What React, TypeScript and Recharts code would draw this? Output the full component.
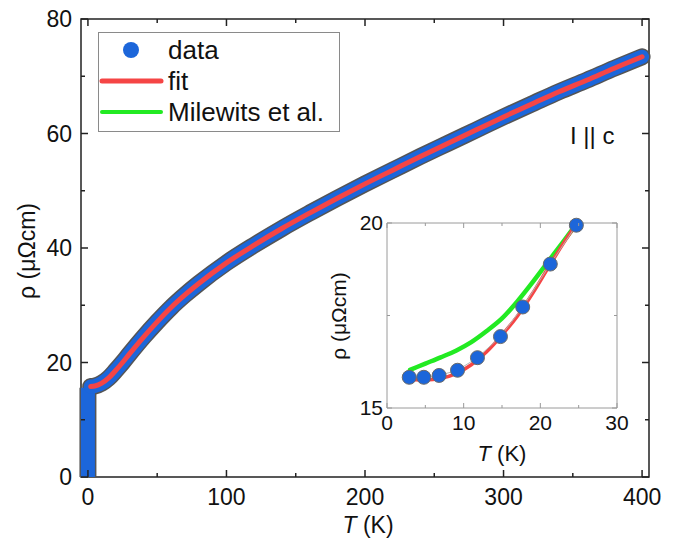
import React from "react";
import { ComposedChart, Line, Scatter, XAxis, YAxis, ReferenceArea, Legend } from "recharts";

// main panel: temperature (K) and resistivity (µΩcm)
const mainT = [2, 5, 10, 15, 20, 25, 30, 40, 50, 60, 70, 80, 100, 120, 140, 160, 180, 200, 220, 240, 260, 280, 300, 320, 340, 360, 380, 400];
const dataRho = [15.8, 15.9, 16.4, 17.3, 18.6, 20.0, 21.5, 24.4, 27.1, 29.6, 31.8, 33.8, 37.4, 40.5, 43.4, 46.1, 48.7, 51.2, 53.6, 56.0, 58.3, 60.6, 62.9, 65.1, 67.3, 69.3, 71.4, 73.4];
const fitRho = [15.8, 15.9, 16.4, 17.3, 18.6, 20.0, 21.5, 24.4, 27.1, 29.6, 31.8, 33.8, 37.4, 40.5, 43.4, 46.1, 48.7, 51.2, 53.6, 56.0, 58.3, 60.6, 62.9, 65.1, 67.3, 69.3, 71.4, 73.4];
// drop to zero below the transition
const dropT = [0, 0];
const dropRho = [0, 15.6];

// inset: low temperature zoom
const insetT = [2.9, 4.8, 6.8, 9.2, 11.8, 14.8, 17.7, 21.3, 24.7];
const insetRho = [15.83, 15.83, 15.88, 16.02, 16.36, 16.93, 17.73, 18.89, 19.94];
const curveT = [3, 5, 7, 9, 11, 13, 15, 17, 19, 21, 23, 24.8];
const insetFit = [15.77, 15.76, 15.8, 15.93, 16.17, 16.52, 16.97, 17.48, 18.1, 18.78, 19.45, 20.0];
const insetMilewits = [16.03, 16.2, 16.37, 16.55, 16.78, 17.08, 17.42, 17.88, 18.4, 18.95, 19.5, 20.0];

const mainXTicks = [0, 50, 100, 150, 200, 250, 300, 350, 400];
const mainYTicks = [0, 10, 20, 30, 40, 50, 60, 70, 80];
const insetXTicks = [0, 5, 10, 15, 20, 25, 30];
const insetYTicks = [15, 17.5, 20];

const FONT = "'Liberation Sans', Arial, sans-serif";
const BLUE = "#1c66da";
const EDGE = "#555";
const RED = "#f54545";
const GREEN = "#22ea22";
const INK = "#111";

const MAIN_TOP = 19;
const MAIN_RIGHT = 649;

const pair = (xs: number[], ys: number[]) => xs.map((T, i) => ({ T, rho: ys[i] }));

const MainXTick = ({ x, y, payload }: any) => {
  const v = payload.value;
  const major = v % 100 === 0;
  const len = major ? 7 : 4;
  return (
    <g>
      <line x1={x} y1={y} x2={x} y2={y - len} stroke="#222" strokeWidth={1.5} />
      <line x1={x} y1={MAIN_TOP} x2={x} y2={MAIN_TOP + len} stroke="#222" strokeWidth={1.5} />
      {major && (
        <text x={x} y={y + 28} textAnchor="middle" fontSize={23} fill={INK} fontFamily={FONT}>
          {v}
        </text>
      )}
    </g>
  );
};

const MainYTick = ({ x, y, payload }: any) => {
  const v = payload.value;
  const major = v % 20 === 0;
  const len = major ? 7 : 4;
  return (
    <g>
      <line x1={x} y1={y} x2={x + len} y2={y} stroke="#222" strokeWidth={1.5} />
      <line x1={MAIN_RIGHT} y1={y} x2={MAIN_RIGHT - len} y2={y} stroke="#222" strokeWidth={1.5} />
      {major && (
        <text x={x - 9} y={y + 8} textAnchor="end" fontSize={23} fill={INK} fontFamily={FONT}>
          {v}
        </text>
      )}
    </g>
  );
};

const INSET_TOP = 23;
const INSET_RIGHT = 297;

const InsetXTick = ({ x, y, payload }: any) => {
  const v = payload.value;
  const major = v % 10 === 0;
  const len = major ? 5 : 3;
  return (
    <g>
      <line x1={x} y1={y} x2={x} y2={y - len} stroke="#999" strokeWidth={1} />
      <line x1={x} y1={INSET_TOP} x2={x} y2={INSET_TOP + len} stroke="#999" strokeWidth={1} />
      {major && (
        <text x={x} y={y + 22} textAnchor="middle" fontSize={21} fill={INK} fontFamily={FONT}>
          {v}
        </text>
      )}
    </g>
  );
};

const InsetYTick = ({ x, y, payload }: any) => {
  const v = payload.value;
  const major = v % 5 === 0;
  const len = major ? 5 : 3;
  return (
    <g>
      <line x1={x} y1={y} x2={x + len} y2={y} stroke="#999" strokeWidth={1} />
      <line x1={INSET_RIGHT} y1={y} x2={INSET_RIGHT - len} y2={y} stroke="#999" strokeWidth={1} />
      {major && (
        <text x={x - 4} y={y + 7} textAnchor="end" fontSize={21} fill={INK} fontFamily={FONT}>
          {v}
        </text>
      )}
    </g>
  );
};

const LegendBox = () => (
  <svg width={242} height={100} style={{ display: "block" }}>
    <rect x={0.5} y={0.5} width={241} height={99} fill="#fff" stroke="#8a8a8a" />
    <circle cx={33} cy={18} r={8} fill={BLUE} />
    <text x={70} y={27} fontSize={26} fill={INK} fontFamily={FONT}>data</text>
    <line x1={4} y1={49} x2={63} y2={49} stroke={RED} strokeWidth={5} strokeLinecap="round" />
    <text x={70} y={58} fontSize={26} fill={INK} fontFamily={FONT}>fit</text>
    <line x1={4} y1={80} x2={63} y2={80} stroke={GREEN} strokeWidth={4} strokeLinecap="round" />
    <text x={70} y={89} fontSize={26} fill={INK} fontFamily={FONT}>Milewits et al.</text>
  </svg>
);

const Dot = ({ cx, cy }: any) => <circle cx={cx} cy={cy} r={7} fill={BLUE} stroke="#6a6a6a" strokeWidth={1} />;

export default function App() {
  const mainData = pair(mainT, dataRho);
  const fitData = pair(mainT, fitRho);
  const dropData = pair(dropT, dropRho);
  const insetData = pair(insetT, insetRho);
  const fitInset = pair(curveT, insetFit);
  const milInset = pair(curveT, insetMilewits);

  return (
    <div style={{ position: "absolute", left: 0, top: 0, width: 689, height: 550, background: "#fff" }}>
      <ComposedChart width={689} height={550} margin={{ top: 19, right: 40, bottom: 13, left: 0 }}>
        <XAxis
          dataKey="T"
          type="number"
          domain={[-5, 405]}
          ticks={mainXTicks}
          interval={0}
          height={60}
          axisLine={false}
          tickLine={false}
          tickSize={0}
          tickMargin={0}
          tick={<MainXTick />}
        />
        <YAxis
          dataKey="rho"
          type="number"
          domain={[0, 80]}
          ticks={mainYTicks}
          interval={0}
          width={81}
          axisLine={false}
          tickLine={false}
          tickSize={0}
          tickMargin={0}
          tick={<MainYTick />}
        />
        <ReferenceArea x1={-5} x2={405} y1={0} y2={80} fill="none" stroke="#222" strokeWidth={1.5} />
        <Line data={dropData} dataKey="rho" stroke={EDGE} strokeWidth={17} strokeLinecap="butt" dot={false} isAnimationActive={false} legendType="none" />
        <Line data={mainData} dataKey="rho" type="monotone" stroke={EDGE} strokeWidth={17} strokeLinecap="round" strokeLinejoin="round" dot={false} isAnimationActive={false} legendType="none" />
        <Line data={dropData} dataKey="rho" stroke={BLUE} strokeWidth={14} strokeLinecap="butt" dot={false} isAnimationActive={false} legendType="none" />
        <Line data={mainData} name="data" dataKey="rho" type="monotone" stroke={BLUE} strokeWidth={14} strokeLinecap="round" strokeLinejoin="round" dot={false} isAnimationActive={false} />
        <Line data={fitData} name="fit" dataKey="rho" type="monotone" stroke={RED} strokeWidth={5} strokeLinecap="round" dot={false} isAnimationActive={false} />
        <Legend
          layout="horizontal"
          verticalAlign="middle"
          align="center"
          content={<LegendBox />}
          wrapperStyle={{ position: "absolute", left: 98, top: 32, width: 242, height: 100 }}
        />
      </ComposedChart>

      <svg width={689} height={550} style={{ position: "absolute", left: 0, top: 0, pointerEvents: "none" }}>
        <text x={27} y={251} transform="rotate(-90 27 251)" textAnchor="middle" dominantBaseline="central" fontSize={23} fill={INK} fontFamily={FONT}>
          ρ (μΩcm)
        </text>
        <text x={368} y={533} textAnchor="middle" fontSize={23} fill={INK} fontFamily={FONT}>
          <tspan fontStyle="italic">T</tspan> (K)
        </text>
        <text x={570} y={144} fontSize={24} fill={INK} fontFamily={FONT}>
          I || c
        </text>
        <text x={338} y={316} transform="rotate(-90 338 316)" textAnchor="middle" dominantBaseline="central" fontSize={21} fill={INK} fontFamily={FONT}>
          ρ (μΩcm)
        </text>
        <text x={502} y={461} textAnchor="middle" fontSize={22} fill={INK} fontFamily={FONT}>
          <tspan fontStyle="italic">T</tspan> (K)
        </text>
      </svg>

      <div style={{ position: "absolute", left: 320, top: 200 }}>
        <ComposedChart width={330} height={270} margin={{ top: 23, right: 33, bottom: 16, left: 0 }}>
          <XAxis
            dataKey="T"
            type="number"
            domain={[0, 30]}
            ticks={insetXTicks}
            interval={0}
            height={46}
            axisLine={false}
            tickLine={false}
            tickSize={0}
            tickMargin={0}
            tick={<InsetXTick />}
          />
          <YAxis
            dataKey="rho"
            type="number"
            domain={[15, 20]}
            ticks={insetYTicks}
            interval={0}
            width={67}
            axisLine={false}
            tickLine={false}
            tickSize={0}
            tickMargin={0}
            tick={<InsetYTick />}
          />
          <ReferenceArea x1={0} x2={30} y1={15} y2={20} fill="#fff" fillOpacity={1} stroke="#9a9a9a" strokeWidth={1} />
          <Scatter data={insetData} dataKey="rho" fill={BLUE} shape={<Dot />} line={{ stroke: "#b5b5b5", strokeWidth: 1 }} isAnimationActive={false} />
          <Line data={milInset} dataKey="rho" type="monotone" stroke={GREEN} strokeWidth={4.5} strokeLinecap="round" dot={false} isAnimationActive={false} />
          <Line data={fitInset} dataKey="rho" type="monotone" stroke={RED} strokeWidth={3.5} strokeLinecap="round" dot={false} isAnimationActive={false} />
        </ComposedChart>
      </div>
    </div>
  );
}
